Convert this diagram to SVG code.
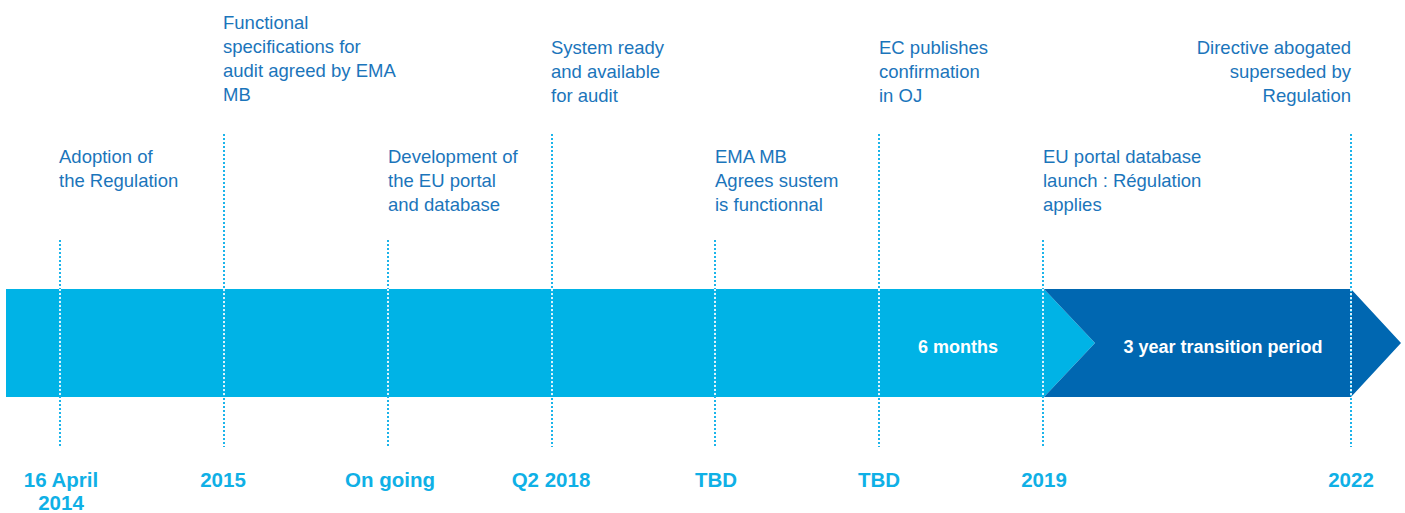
<svg xmlns="http://www.w3.org/2000/svg" width="1405" height="513" viewBox="0 0 1405 513">
<style>
.lbl{font-family:"Liberation Sans",Arial,sans-serif;font-size:18.5px;fill:#1b75bb}
.date{font-family:"Liberation Sans",Arial,sans-serif;font-size:20.5px;font-weight:bold;fill:#0fb0e6;text-anchor:middle}
.bar{font-family:"Liberation Sans",Arial,sans-serif;font-size:18px;font-weight:bold;fill:#ffffff;text-anchor:middle}
.dot{stroke:#1cb4ea;stroke-width:2;stroke-dasharray:2 2;fill:none}
.dotw{stroke:#ffffff;stroke-width:2;stroke-dasharray:2 2;fill:none;opacity:0.85}
</style>
<rect width="1405" height="513" fill="#ffffff"/>
<g id="bars">
<path id="bar-light" d="M6 289 H1044 L1095 343 L1044 397 H6 Z" fill="#00b3e6"/>
<path id="bar-dark" d="M1044 289 H1351 L1401 343 L1351 397 H1044 L1095 343 Z" fill="#0067b1"/>
<text class="bar" x="958" y="353">6 months</text>
<text class="bar" x="1223" y="353">3 year transition period</text>
</g>
<g id="connectors">
<line class="dot" x1="60" y1="240" x2="60" y2="447"/>
<line class="dot" x1="224" y1="134" x2="224" y2="447"/>
<line class="dot" x1="388" y1="240" x2="388" y2="447"/>
<line class="dot" x1="552" y1="134" x2="552" y2="447"/>
<line class="dot" x1="715" y1="240" x2="715" y2="447"/>
<line class="dot" x1="879" y1="134" x2="879" y2="447"/>
<line class="dot" x1="1043" y1="240" x2="1043" y2="447"/>
<line class="dot" x1="1351" y1="134" x2="1351" y2="447"/>
<line class="dotw" x1="60" y1="289" x2="60" y2="397"/>
<line class="dotw" x1="224" y1="289" x2="224" y2="397"/>
<line class="dotw" x1="388" y1="289" x2="388" y2="397"/>
<line class="dotw" x1="552" y1="289" x2="552" y2="397"/>
<line class="dotw" x1="715" y1="289" x2="715" y2="397"/>
<line class="dotw" x1="879" y1="289" x2="879" y2="397"/>
<line class="dotw" x1="1043" y1="289" x2="1043" y2="397"/>
<line class="dotw" x1="1351" y1="289" x2="1351" y2="397"/>
</g>
<g id="m1">
<text class="lbl" x="59" y="163">Adoption of</text>
<text class="lbl" x="59" y="187">the Regulation</text>
<text class="date" x="61" y="487">16 April</text>
<text class="date" x="61" y="510">2014</text>
</g>
<g id="m2">
<text class="lbl" x="223" y="29">Functional</text>
<text class="lbl" x="223" y="53">specifications for</text>
<text class="lbl" x="223" y="77">audit agreed by EMA</text>
<text class="lbl" x="223" y="101">MB</text>
<text class="date" x="223" y="487">2015</text>
</g>
<g id="m3">
<text class="lbl" x="388" y="163">Development of</text>
<text class="lbl" x="388" y="187">the EU portal</text>
<text class="lbl" x="388" y="211">and database</text>
<text class="date" x="390" y="487">On going</text>
</g>
<g id="m4">
<text class="lbl" x="551" y="54">System ready</text>
<text class="lbl" x="551" y="78">and available</text>
<text class="lbl" x="551" y="102">for audit</text>
<text class="date" x="551" y="487">Q2 2018</text>
</g>
<g id="m5">
<text class="lbl" x="715" y="163">EMA MB</text>
<text class="lbl" x="715" y="187">Agrees sustem</text>
<text class="lbl" x="715" y="211">is functionnal</text>
<text class="date" x="716" y="487">TBD</text>
</g>
<g id="m6">
<text class="lbl" x="879" y="54">EC publishes</text>
<text class="lbl" x="879" y="78">confirmation</text>
<text class="lbl" x="879" y="102">in OJ</text>
<text class="date" x="879" y="487">TBD</text>
</g>
<g id="m7">
<text class="lbl" x="1043" y="163">EU portal database</text>
<text class="lbl" x="1043" y="187">launch : Régulation</text>
<text class="lbl" x="1043" y="211">applies</text>
<text class="date" x="1044" y="487">2019</text>
</g>
<g id="m8">
<text class="lbl" x="1351" y="54" text-anchor="end">Directive abogated</text>
<text class="lbl" x="1351" y="78" text-anchor="end">superseded by</text>
<text class="lbl" x="1351" y="102" text-anchor="end">Regulation</text>
<text class="date" x="1351" y="487">2022</text>
</g>
</svg>
